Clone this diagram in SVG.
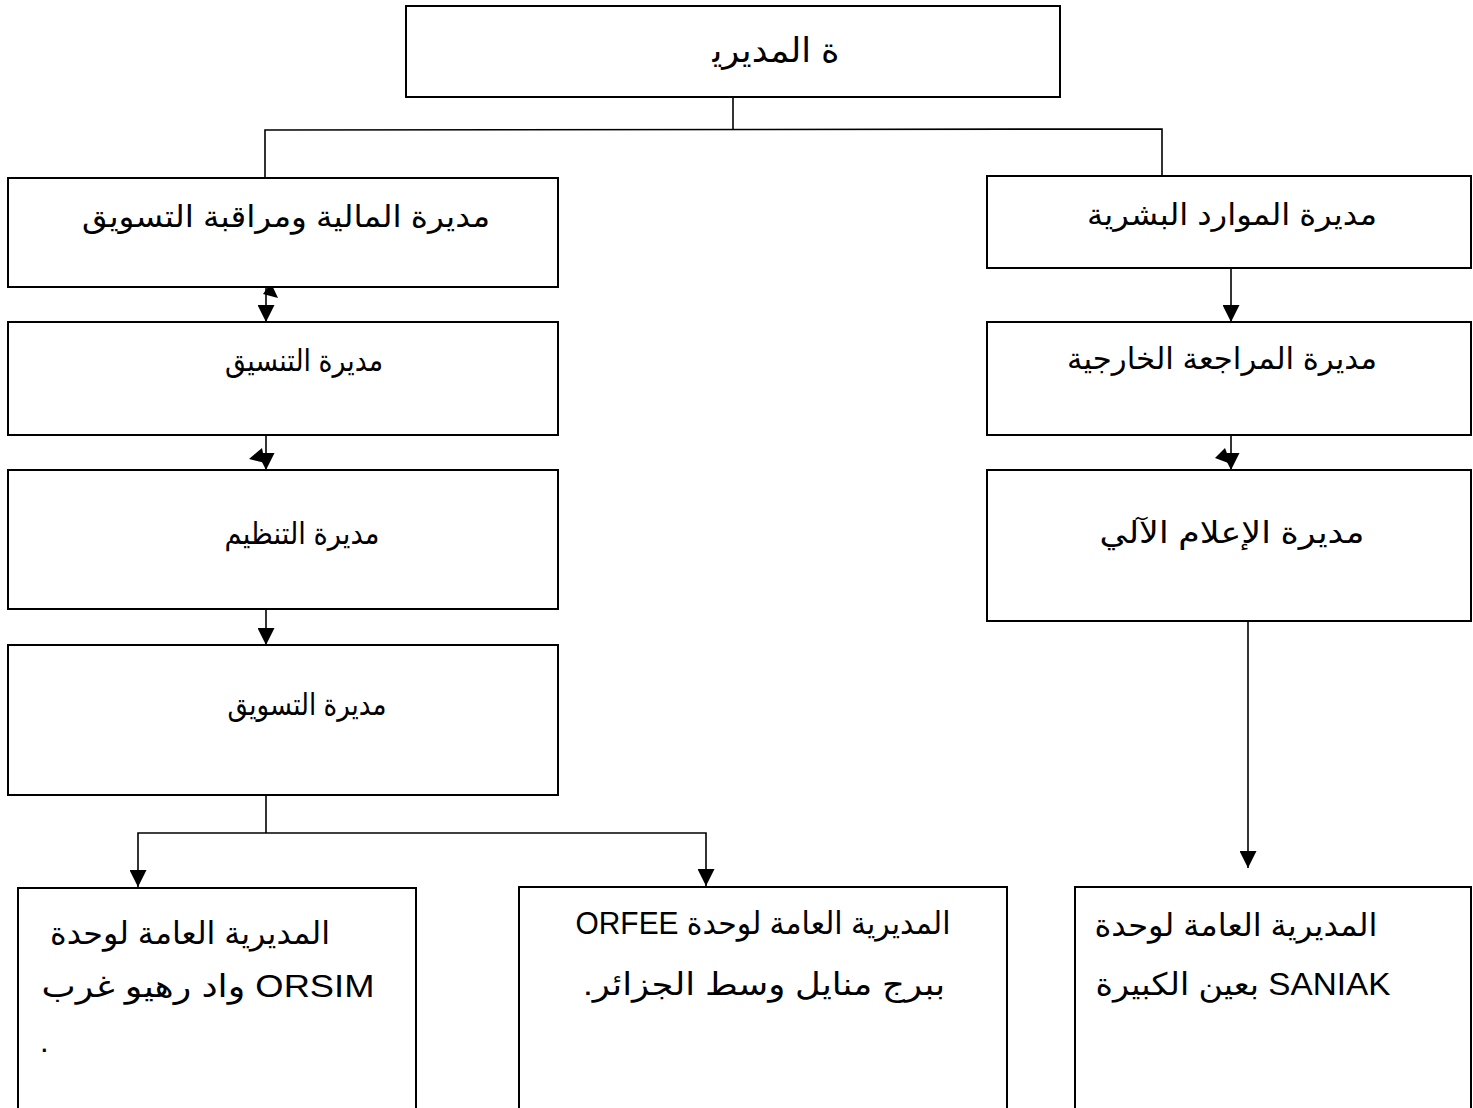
<svg xmlns="http://www.w3.org/2000/svg" width="1473" height="1108" viewBox="0 0 1473 1108">
<defs>
<style>
.box{fill:#fff;stroke:#000;stroke-width:2}
.ln{fill:none;stroke:#000;stroke-width:1.6}
.hd{fill:#000;stroke:none}
.t{font-family:"Liberation Sans","DejaVu Sans",sans-serif;font-size:30px;fill:#000}
.b{font-family:"Liberation Sans","DejaVu Sans",sans-serif;font-size:31px;fill:#000}
</style>
<marker id="ah" viewBox="0 0 17 17" refX="17" refY="8.5" markerWidth="17" markerHeight="17" markerUnits="userSpaceOnUse" orient="auto-start-reverse">
<path d="M0,0 L17,8.5 L0,17 Z" fill="#000"/>
</marker>
</defs>
<rect width="1473" height="1108" fill="#fff"/>

<g id="connectors">
<polyline class="ln" points="733,97 733,130"/>
<polyline class="ln" points="265,178 265,130 1162,129 1162,175"/>
<line class="ln" x1="266" y1="287" x2="266" y2="322" marker-end="url(#ah)"/>
<polygon class="hd" points="271,283 263,294 278,298"/>
<line class="ln" x1="266" y1="435" x2="266" y2="470" marker-end="url(#ah)"/>
<polygon class="hd" points="249,459 262,448 265,463"/>
<line class="ln" x1="266" y1="609" x2="266" y2="645" marker-end="url(#ah)"/>
<polyline class="ln" points="266,795 266,833"/>
<polyline class="ln" points="138,887 138,833 706,833 706,886" marker-start="url(#ah)" marker-end="url(#ah)"/>
<line class="ln" x1="1231" y1="268" x2="1231" y2="322" marker-end="url(#ah)"/>
<polygon class="hd" points="1225,253 1215,265 1231,268"/>
<line class="ln" x1="1231" y1="435" x2="1231" y2="470" marker-end="url(#ah)"/>
<polygon class="hd" points="1215,458 1225,448 1231,464"/>
<line class="ln" x1="1248" y1="621" x2="1248" y2="868" marker-end="url(#ah)"/>
</g>

<g id="top">
<rect class="box" x="406" y="6" width="654" height="91"/>
<text class="t" style="font-size:34px" x="776" y="62" text-anchor="middle" direction="rtl" textLength="127" lengthAdjust="spacingAndGlyphs">ة المديري&#x200D;</text>
</g>

<g id="finance">
<rect class="box" x="8" y="178" width="550" height="109"/>
<text class="t" x="286" y="227" text-anchor="middle" direction="rtl" textLength="408" lengthAdjust="spacingAndGlyphs">مديرة المالية ومراقبة التسويق</text>
</g>

<g id="coordination">
<rect class="box" x="8" y="322" width="550" height="113"/>
<text class="t" x="304" y="371" text-anchor="middle" direction="rtl" textLength="158" lengthAdjust="spacingAndGlyphs">مديرة التنسيق</text>
</g>

<g id="organization">
<rect class="box" x="8" y="470" width="550" height="139"/>
<text class="t" x="302" y="544" text-anchor="middle" direction="rtl" textLength="155" lengthAdjust="spacingAndGlyphs">مديرة التنظيم</text>
</g>

<g id="marketing">
<rect class="box" x="8" y="645" width="550" height="150"/>
<text class="t" x="307" y="715" text-anchor="middle" direction="rtl" textLength="159" lengthAdjust="spacingAndGlyphs">مديرة التسويق</text>
</g>

<g id="hr">
<rect class="box" x="987" y="176" width="484" height="92"/>
<text class="t" x="1232" y="225" text-anchor="middle" direction="rtl" textLength="290" lengthAdjust="spacingAndGlyphs">مديرة الموارد البشرية</text>
</g>

<g id="audit">
<rect class="box" x="987" y="322" width="484" height="113"/>
<text class="t" x="1222" y="369" text-anchor="middle" direction="rtl" textLength="310" lengthAdjust="spacingAndGlyphs">مديرة المراجعة الخارجية</text>
</g>

<g id="it">
<rect class="box" x="987" y="470" width="484" height="151"/>
<text class="t" x="1232" y="543" text-anchor="middle" direction="rtl" textLength="265" lengthAdjust="spacingAndGlyphs">مديرة الإعلام الآلي</text>
</g>

<g id="orsim">
<rect class="box" x="18" y="888" width="398" height="230"/>
<text class="b" x="190" y="944" text-anchor="middle" direction="rtl" textLength="280" lengthAdjust="spacingAndGlyphs">المديرية العامة لوحدة</text>
<text class="b" x="208" y="997" text-anchor="middle" direction="rtl" textLength="333" lengthAdjust="spacingAndGlyphs">ORSIM واد رهيو غرب</text>
<text class="b" x="40" y="1052">.</text>
</g>

<g id="orfee">
<rect class="box" x="519" y="887" width="488" height="231"/>
<text class="b" x="763" y="934" text-anchor="middle" direction="rtl" textLength="375" lengthAdjust="spacingAndGlyphs">المديرية العامة لوحدة  ORFEE</text>
<text class="b" x="764" y="995" text-anchor="middle" direction="rtl" textLength="362" lengthAdjust="spacingAndGlyphs">ببرج منايل وسط الجزائر.</text>
</g>

<g id="saniak">
<rect class="box" x="1075" y="887" width="396" height="231"/>
<text class="b" x="1236" y="936" text-anchor="middle" direction="rtl" textLength="283" lengthAdjust="spacingAndGlyphs">المديرية العامة لوحدة</text>
<text class="b" x="1243" y="995" text-anchor="middle" direction="rtl" textLength="295" lengthAdjust="spacingAndGlyphs">SANIAK بعين الكبيرة</text>
</g>
</svg>
